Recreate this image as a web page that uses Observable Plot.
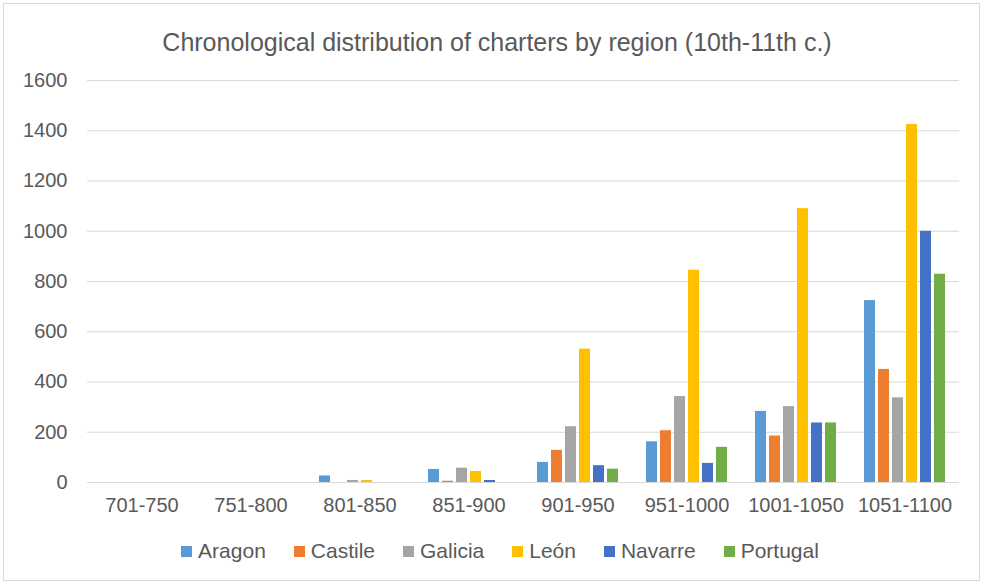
<!DOCTYPE html>
<html>
<head>
<meta charset="utf-8">
<script src="https://cdn.jsdelivr.net/npm/d3@7"></script>
<script src="https://cdn.jsdelivr.net/npm/@observablehq/plot@0.6"></script>
<style>
  html, body { margin: 0; padding: 0; background: #fff; }
  #wrap { position: relative; width: 984px; height: 585px; overflow: hidden; font-family: "Liberation Sans", Arial, sans-serif; color: #595959; }
  #frame { position: absolute; left: 3px; top: 3px; width: 977px; height: 578px; border: 1px solid #d9d9d9; box-sizing: border-box; }
  #title { position: absolute; left: 0; width: 994px; top: 27px; text-align: center; font-size: 25px; line-height: 30px; color: #595959; }
  #chart { position: absolute; left: 0; top: 0; }
  #legend { position: absolute; left: 0; width: 1000px; top: 538px; display: flex; justify-content: center; align-items: center; font-size: 21px; line-height: 26px; color: #595959; }
  .item { display: flex; align-items: center; margin: 0 14px; }
  .sw { width: 11px; height: 11px; margin-right: 6px; }
</style>
</head>
<body>
<div id="wrap">
  <div id="frame"></div>
  <div id="title">Chronological distribution of charters by region (10th-11th c.)</div>
  <div id="chart"></div>
  <div id="legend"></div>
</div>
<script>
const periods = ["701-750", "751-800", "801-850", "851-900", "901-950", "951-1000", "1001-1050", "1051-1100"];
const regions = ["Aragon", "Castile", "Galicia", "León", "Navarre", "Portugal"];
const colors = ["#5B9BD5", "#ED7D31", "#A5A5A5", "#FFC000", "#4472C4", "#70AD47"];
const aragon   = [0, 0, 26, 52, 80, 162, 283, 724];
const castile  = [0, 0, 0, 5, 128, 206, 185, 450];
const galicia  = [0, 0, 8, 57, 222, 342, 302, 337];
const leon     = [0, 0, 8, 44, 531, 845, 1090, 1425];
const navarre  = [0, 0, 0, 8, 67, 76, 237, 1000];
const portugal = [0, 0, 0, 0, 53, 140, 237, 829];
const yTicks = [0, 200, 400, 600, 800, 1000, 1200, 1400, 1600];

const series = [aragon, castile, galicia, leon, navarre, portugal];
const data = [];
periods.forEach((p, i) => {
  regions.forEach((r, j) => data.push({period: p, region: r, count: series[j][i]}));
});

const chart = Plot.plot({
  width: 984,
  height: 520,
  marginTop: 80,
  marginBottom: 38,
  marginLeft: 83,
  marginRight: 22,
  style: {fontFamily: "'Liberation Sans', Arial, sans-serif", fontSize: "20px", color: "#595959", background: "transparent"},
  fx: {domain: periods, padding: 0, label: null},
  x: {domain: regions, axis: null, paddingInner: 0.18, paddingOuter: 0.856},
  y: {domain: [0, 1600], label: null},
  color: {domain: regions, range: colors},
  marks: [
    Plot.ruleY(yTicks, {stroke: "#d9d9d9", strokeWidth: 1.2}),
    Plot.barY(data, {fx: "period", x: "region", y: "count", fill: "region"}),
    Plot.axisY({ticks: yTicks, tickFormat: d => String(d), tickSize: 0, tickPadding: 20, fontSize: 20, label: null}),
    Plot.axisFx({anchor: "bottom", tickSize: 0, tickPadding: 15, fontSize: 20, label: null})
  ]
});
document.getElementById("chart").appendChild(chart);

const legend = document.getElementById("legend");
regions.forEach((r, j) => {
  const it = document.createElement("div");
  it.className = "item";
  const sw = document.createElement("div");
  sw.className = "sw";
  sw.style.background = colors[j];
  const t = document.createElement("span");
  t.textContent = r;
  it.appendChild(sw);
  it.appendChild(t);
  legend.appendChild(it);
});
</script>
</body>
</html>
